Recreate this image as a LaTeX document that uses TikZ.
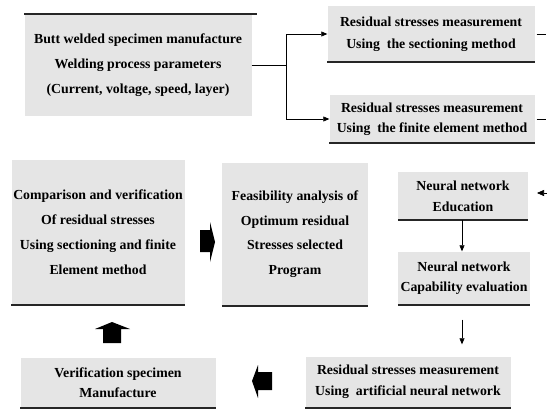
\documentclass[tikz,border=0pt]{standalone}
\usepackage{fontspec}
\setmainfont{Liberation Serif}
\usetikzlibrary{arrows.meta}
\begin{document}
\begin{tikzpicture}[x=1pt,y=-1pt,
  box/.style={fill=black!10, inner sep=0pt, align=center},
  tx/.style={font=\bfseries\fontsize{13.8}{#1}\selectfont},
  bar/.style={line width=2.3pt, black!85},
  conn/.style={line width=0.6pt, -{Triangle[length=6pt,width=5pt]}},
  blk/.style={fill=black}]
\useasboundingbox (0,0) rectangle (547,410);

% boxes
\node[box, tx=25, minimum width=227pt, minimum height=101pt] (b1) at (138,65)
  {Butt welded specimen manufacture\\Welding process parameters\\(Current, voltage, speed, layer)};
\node[box, tx=22, minimum width=207pt, minimum height=56pt] (b2) at (431,34)
  {Residual stresses measurement\\Using\ \ the sectioning method};
\node[box, tx=20, minimum width=205pt, minimum height=48pt] (b3) at (432,119)
  {Residual stresses measurement\\Using\ \ the finite element method};
\node[box, tx=25, minimum width=173pt, minimum height=145pt] (b4) at (98,232)
  {Comparison and verification\\Of residual stresses\\Using sectioning and finite\\Element method};
\node[box, tx=24.5, minimum width=146pt, minimum height=143pt] (b5) at (295,234)
  {Feasibility analysis of\\Optimum residual\\Stresses selected\\Program};
\node[box, tx=21, minimum width=130pt, minimum height=48pt] (b6) at (463,196)
  {Neural network\\Education};
\node[box, tx=20, minimum width=132pt, minimum height=53pt] (b7) at (464,278)
  {Neural network\\Capability evaluation};
\node[box, tx=20, minimum width=195pt, minimum height=50pt] (b8) at (118,383)
  {Verification specimen\\Manufacture};
\node[box, tx=21, minimum width=205pt, minimum height=51pt] (b9) at (408,382)
  {Residual stresses measurement\\Using\ \ artificial neural network};

% dark bars
\draw[bar] (b1.north west) -- ([xshift=5pt]b1.north east);
\foreach \n in {b2,b3,b4,b5,b6,b7,b8,b9}
  \draw[bar] (\n.south west) -- (\n.south east);

% connectors
\draw[line width=0.6pt] (b1.east) -- ++(35,0) coordinate (j);
\draw[conn] (j) |- (b2.west);
\draw[conn] (j) |- (b3.west);
\draw[line width=0.6pt] ([xshift=2pt]b2.east) -- ++(9,0) coordinate (s2);
\draw[line width=0.6pt] ([xshift=2pt]b3.east) -- ++(9,0) coordinate (s3);
\coordinate (ein) at (537,193);
\draw[-{Triangle[length=7pt,width=6pt]}, line width=0.6pt] (547,193) -- (ein);
\draw[conn] (b6.south -| 462,0) -- (b7.north -| 462,0);
\draw[conn] ([yshift=-15pt]b7.south -| 462,0) coordinate (d1) -- ([yshift=12pt]b9.north -| 462,0);

% block arrows
\fill[blk] (200,230) -- (210,230) -- (210,222) -- (215,242) -- (210,262) -- (210,252) -- (200,252) -- cycle;
\fill[blk] (103,343) -- (103,329) -- (95,329) -- (112,322) -- (130,329) -- (121,329) -- (121,343) -- cycle;
\fill[blk] (272,372) -- (258,372) -- (258,365) -- (252,381) -- (258,398) -- (258,390) -- (272,390) -- cycle;
\end{tikzpicture}
\end{document}
